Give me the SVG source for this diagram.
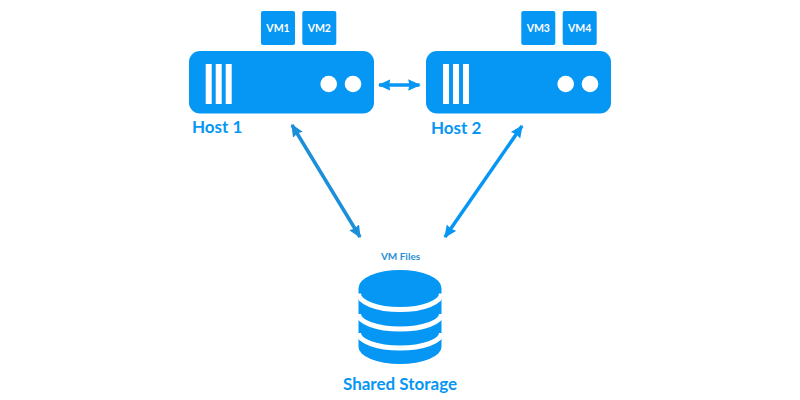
<svg xmlns="http://www.w3.org/2000/svg" width="800" height="400" viewBox="0 0 800 400">
<style>
.b{fill:#0696f4}
.w{fill:#fff}
.vm{font:700 10.500px Lato,"Open Sans",sans-serif;fill:#fff;text-anchor:middle}
.h{font:700 17px Lato,"Open Sans",sans-serif;fill:#0696f4}
.l1{stroke:#1b8fd8;stroke-width:3.500;fill:none}
.l2{stroke:#0696f4;stroke-width:3.500;fill:none}
.gap{stroke:#fff;stroke-width:5;fill:none}
</style>
<defs>
<marker id="a1" viewBox="0 0 10 10" refX="9" refY="5" markerWidth="3.600" markerHeight="3.600" orient="auto-start-reverse"><path d="M0 0.500L10 5L0 9.500L1 5Z" fill="#1b8fd8"/></marker>
<marker id="a2" viewBox="0 0 10 10" refX="9" refY="5" markerWidth="3.600" markerHeight="3.600" orient="auto-start-reverse"><path d="M0 0.500L10 5L0 9.500L1 5Z" fill="#0696f4"/></marker>
</defs>
<rect class="w" width="800" height="400"/>
<g id="connectors">
<line class="l2" x1="379" y1="85" x2="419.500" y2="85" marker-start="url(#a2)" marker-end="url(#a2)"/>
<line class="l1" x1="292" y1="125" x2="360" y2="237" marker-start="url(#a1)" marker-end="url(#a1)"/>
<line class="l2" x1="522" y1="126" x2="445" y2="237" marker-start="url(#a2)" marker-end="url(#a2)"/>
</g>
<g id="host1">
<rect class="b" x="189" y="51" width="185" height="62.500" rx="11"/>
<rect class="w" x="205.700" y="64" width="6" height="40"/>
<rect class="w" x="215.700" y="64" width="6" height="40"/>
<rect class="w" x="225.700" y="64" width="6" height="40"/>
<circle class="w" cx="328.700" cy="84" r="8.300"/>
<circle class="w" cx="353" cy="84" r="8.300"/>
<text class="h" x="192" y="133">Host 1</text>
</g>
<g id="vm1"><rect class="b" x="261" y="11" width="34" height="34" rx="2"/><text class="vm" x="278" y="32">VM1</text></g>
<g id="vm2"><rect class="b" x="302.300" y="11" width="34" height="34" rx="2"/><text class="vm" x="319.300" y="32">VM2</text></g>
<g id="host2">
<rect class="b" x="426" y="51" width="185" height="62.500" rx="11"/>
<rect class="w" x="443" y="64" width="6" height="40"/>
<rect class="w" x="453" y="64" width="6" height="40"/>
<rect class="w" x="463" y="64" width="6" height="40"/>
<circle class="w" cx="565.700" cy="84" r="8.300"/>
<circle class="w" cx="590" cy="84" r="8.300"/>
<text class="h" x="431" y="134">Host 2</text>
</g>
<g id="vm3"><rect class="b" x="521.300" y="11" width="34" height="34" rx="2"/><text class="vm" x="538.300" y="32">VM3</text></g>
<g id="vm4"><rect class="b" x="562.700" y="11" width="34" height="34" rx="2"/><text class="vm" x="579.700" y="32">VM4</text></g>
<g id="storage">
<path class="b" d="M358.500 288A41.500 18 0 0 1 441.500 288V347A41.500 17 0 0 1 358.500 347Z"/>
<path class="gap" d="M358.500 293.500A41.500 16 0 0 0 441.500 293.500"/>
<path class="gap" d="M358.500 314A41.500 15 0 0 0 441.500 314"/>
<path class="gap" d="M358.500 333A41.500 15 0 0 0 441.500 333"/>
<text x="400.500" y="260" style="font:700 10px Lato,'Open Sans',sans-serif;fill:#2a8fd6;text-anchor:middle">VM Files</text>
<text x="400" y="390" style="font:700 17px Lato,'Open Sans',sans-serif;fill:#0696f4;text-anchor:middle">Shared Storage</text>
</g>
</svg>
